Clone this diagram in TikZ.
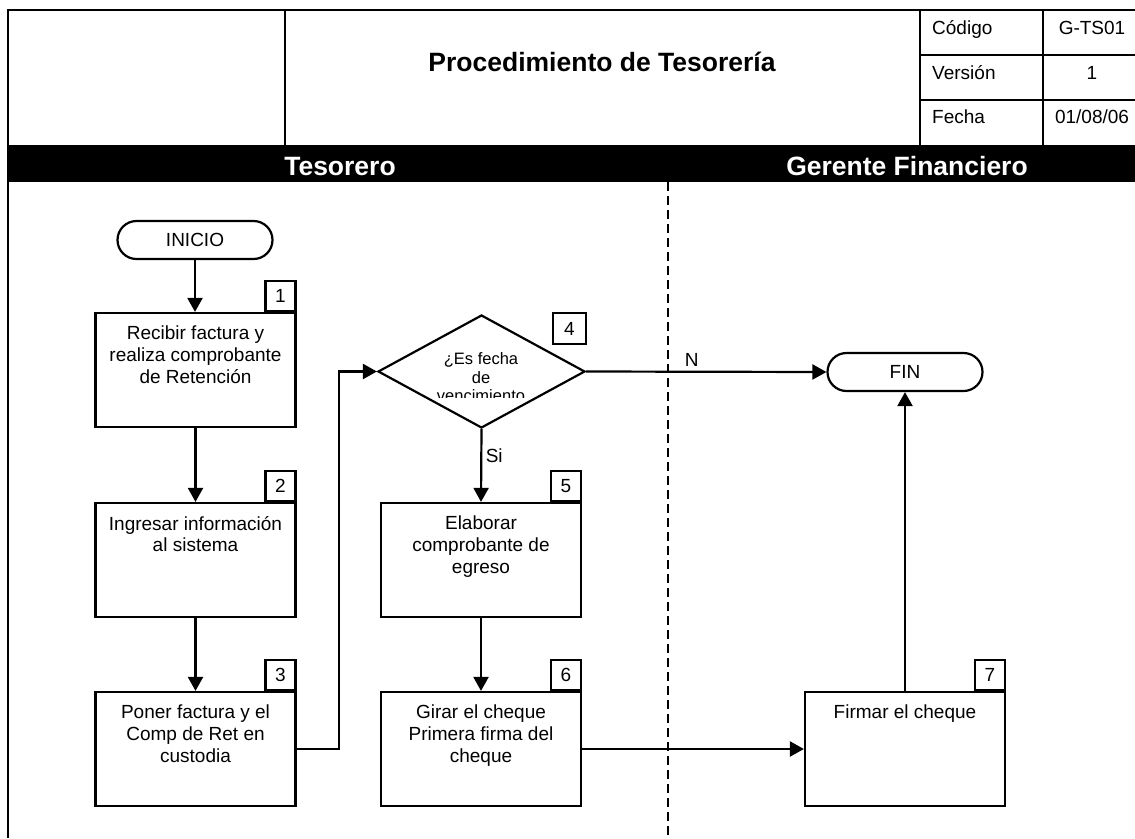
\documentclass[tikz,border=0pt]{standalone}
\usepackage{fontspec}
\setmainfont{Liberation Sans}
\usetikzlibrary{shapes.geometric,arrows.meta}
\begin{document}
\begin{tikzpicture}[x=1pt,y=-1pt,
  frame/.style={line width=2.2pt},
  box/.style={draw, line width=2.2pt, minimum width=200pt, minimum height=114pt, inner sep=0pt},
  numbox/.style={draw, line width=2.2pt, minimum width=30pt, minimum height=30pt, inner sep=0pt, anchor=south east, font=\fontsize{19}{21}\selectfont, text depth=0pt},
  boxtext/.style={anchor=north, align=center, inner sep=0pt, font=\fontsize{19}{21.6}\selectfont},
  term/.style={draw, line width=2.2pt, rounded corners=19pt, minimum width=155pt, minimum height=38pt, inner sep=0pt, font=\fontsize{19}{21}\selectfont},
  arr/.style={line width=2.2pt, -{Triangle[length=14pt,width=15pt]}},
  bandtext/.style={font=\fontsize{26.5}{30}\selectfont\bfseries, text=white, anchor=base, inner sep=0pt},
  celltext/.style={font=\fontsize{19}{21}\selectfont, inner sep=0pt},
  lbl/.style={font=\fontsize{19}{21}\selectfont}
]
\useasboundingbox (0,0) rectangle (1135,838);
\fill[white] (0,0) rectangle (1135,838);

% header table
\draw[frame] (8,838) -- (8,10) -- (1140,10);
\draw[frame] (285,10) -- (285,145);
\draw[frame] (920,10) -- (920,145);
\draw[frame] (1043,10) -- (1043,145);
\draw[frame] (920,55) -- (1140,55);
\draw[frame] (920,100) -- (1140,100);
\fill[black] (8,145) rectangle (1140,182);

\node[font=\fontsize{26.5}{30}\selectfont\bfseries, anchor=base, inner sep=0pt] (title) at (602,71) {Procedimiento de Tesorería};
\node[celltext, anchor=base west] (c1) at (932,34) {Código};
\node[celltext, anchor=base west] (c2) at (932,79) {Versión};
\node[celltext, anchor=base west] (c3) at (932,123) {Fecha};
\node[celltext, anchor=base] (v1) at (1092,34) {G-TS01};
\node[celltext, anchor=base] (v2) at (1092,79) {1};
\node[celltext, anchor=base] (v3) at (1092,123) {01/08/06};

\node[bandtext] (lane1) at (340,175) {Tesorero};
\node[bandtext] (lane2) at (907,175) {Gerente Financiero};

% lane divider
\draw[line width=1.5pt, dash pattern=on 9pt off 5pt] (668,182) -- (668,838);

% terminals
\node[term] (ini) at (195,240) {INICIO};
\node[term] (fin) at (905,372) {FIN};

% process boxes
\node[box] (b1) at (195.5,370) {};
\node[box] (b2) at (195.5,560) {};
\node[box] (b3) at (195.5,749) {};
\node[box] (b5) at (481,560) {};
\node[box] (b6) at (481,749) {};
\node[box] (b7) at (905,749) {};

\node[boxtext] (t1) at ([yshift=-14pt]b1.north) {Recibir factura y\\realiza comprobante\\de Retención};
\node[boxtext] (t2) at ([yshift=-14pt]b2.north) {Ingresar información\\al sistema};
\node[boxtext] (t3) at ([yshift=-14pt]b3.north) {Poner factura y el\\Comp de Ret en\\custodia};
\node[boxtext] (t5) at ([yshift=-14pt]b5.north) {Elaborar\\comprobante de\\egreso};
\node[boxtext] (t6) at ([yshift=-14pt]b6.north) {Girar el cheque\\Primera firma del\\cheque};
\node[boxtext] (t7) at ([yshift=-14pt]b7.north) {Firmar el cheque};

\node[numbox] (n1) at (b1.north east) {1};
\node[numbox] (n2) at (b2.north east) {2};
\node[numbox] (n3) at (b3.north east) {3};
\node[numbox] (n5) at (b5.north east) {5};
\node[numbox] (n6) at (b6.north east) {6};
\node[numbox] (n7) at (b7.north east) {7};

% decision
\node[draw, diamond, line width=2.2pt, minimum width=207pt, minimum height=113pt, inner sep=0pt] (d4) at (481.5,371.5) {};
\begin{scope}
\clip (380,330) rectangle (590,397.5);
\node[anchor=north, align=center, inner sep=0pt, font=\fontsize{16.5}{18.5}\selectfont] (t4) at (481,352.5) {¿Es fecha\\de\\vencimiento};
\end{scope}
\node[numbox, anchor=center, minimum width=33pt, minimum height=31pt] (n4) at (569.5,328.5) {4};

% connectors
\draw[arr] (ini.south) -- (ini.south |- b1.north);
\draw[arr] (b1) -- (b2);
\draw[arr] (b2) -- (b3);
\draw[arr] (b3.east) -- ++(42,0) |- (d4.west);
\draw[arr] (d4.east) -- node[lbl, pos=0.44, above=1pt] {N} (fin.west);
\draw[arr] (d4.south) -- node[lbl, pos=0.37, right] {Si} (b5.north);
\draw[arr] (b5) -- (b6);
\draw[arr] (b6.east) -- (b7.west);
\draw[arr] (b7.north) -- (fin.south);
\end{tikzpicture}
\end{document}
